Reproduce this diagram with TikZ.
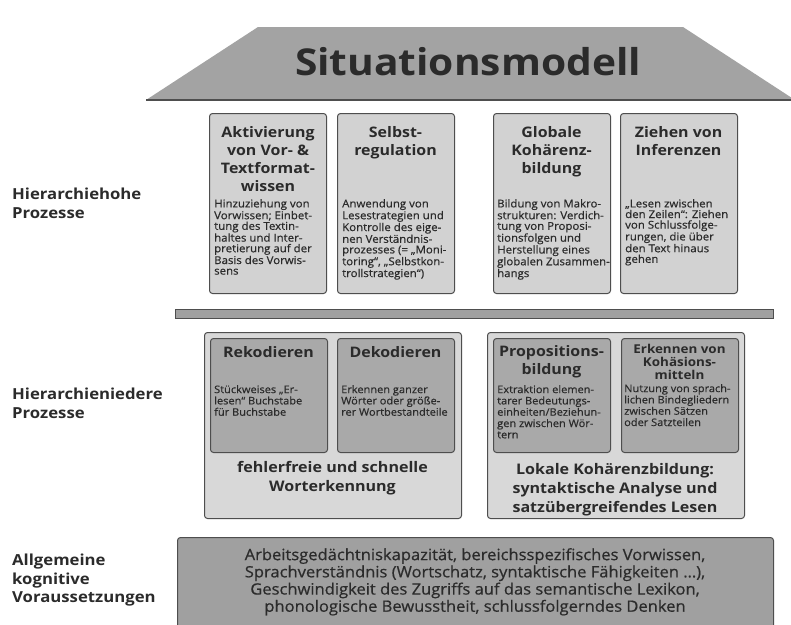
\documentclass[tikz,border=0pt]{standalone}
\usepackage{fontspec}
\setmainfont{Open Sans}[FakeStretch=1.1]
\newfontfamily\bodyfont{Open Sans}[FakeStretch=1.06, FakeBold=0.6]

\definecolor{edgegray}{HTML}{4E4E4E}
\definecolor{trapgray}{HTML}{A3A3A3}
\definecolor{lightbox}{HTML}{D2D2D2}
\definecolor{framefill}{HTML}{D8D8D8}
\definecolor{darkbox}{HTML}{A9A9A9}
\definecolor{basefill}{HTML}{A0A0A0}
\definecolor{inkgray}{HTML}{2B2B2B}

\tikzset{
  every node/.style={inner sep=0pt, text=inkgray},
  boxbase/.style={draw=edgegray, line width=1pt, rounded corners=3pt, anchor=north west},
  upbox/.style={boxbase, fill=lightbox, minimum width=117pt, minimum height=180pt},
  lowframe/.style={boxbase, fill=framefill, minimum width=257pt, minimum height=186pt},
  lowbox/.style={boxbase, fill=darkbox, minimum width=117pt, minimum height=114pt},
  titletext/.style={anchor=north, align=center, font=\bfseries\fontsize{14.5}{18}\selectfont},
  smalltitle/.style={anchor=north, align=center, font=\bfseries\fontsize{12.2}{13}\selectfont},
  updesc/.style={anchor=north west, align=left, font=\bodyfont\fontsize{10.8}{10.6}\selectfont},
  lowdesc/.style={anchor=north west, align=left, font=\bodyfont\fontsize{10.4}{11.3}\selectfont},
  frametext/.style={anchor=north, align=center, font=\bfseries\fontsize{14.6}{19.2}\selectfont},
  sidelabel/.style={anchor=north west, align=left, font=\bfseries\fontsize{15.2}{18.6}\selectfont},
}

\begin{document}
\begin{tikzpicture}[x=1pt, y=-1pt]
\useasboundingbox (0,0) rectangle (791,624);
\fill[white] (0,0) rectangle (791,624);

% top: situation model
\fill[trapgray] (258,27) -- (683,27) -- (795,100) -- (146,100) -- cycle;
\draw[edgegray, line width=1.4pt] (146,100) -- (795,100);
\node[font=\bfseries\fontsize{37}{42}\selectfont] (sm) at (468,62) {Situationsmodell};

% side labels
\node[sidelabel] (lblhigh) at (12,188) {Hierarchiehohe\\Prozesse};
\node[sidelabel] (lbllow) at (12,388) {Hierarchieniedere\\Prozesse};
\node[sidelabel] (lblbase) at (12,554) {Allgemeine\\kognitive\\Voraussetzungen};

% high-level processes
\node[upbox] (h1) at (209,113) {};
\node[upbox] (h2) at (337,113) {};
\node[upbox] (h3) at (493,113) {};
\node[upbox] (h4) at (620,113) {};

\node[titletext] (h1t) at (268,126) {Aktivierung\\von Vor- \&\\Textformat-\\wissen};
\node[titletext] (h2t) at (395.5,126) {Selbst-\\regulation};
\node[titletext] (h3t) at (551.5,126) {Globale\\Kohärenz-\\bildung};
\node[titletext] (h4t) at (678.5,126) {Ziehen von\\Inferenzen};

\node[updesc] (h1d) at (214,199) {Hinzuziehung von\\Vorwissen; Einbet-\\tung des Textin-\\haltes und Inter-\\pretierung auf der\\Basis des Vorwis-\\sens};
\node[updesc] (h2d) at (342,199) {Anwendung von\\Lesestrategien und\\Kontrolle des eige-\\nen Verständnis-\\prozesses (= „Moni-\\toring“, „Selbstkon-\\trollstrategien“)};
\node[updesc] (h3d) at (497,199) {Bildung von Makro-\\strukturen: Verdich-\\tung von Proposi-\\tionsfolgen und\\Herstellung eines\\globalen Zusammen-\\hangs};
\node[updesc] (h4d) at (625,199) {„Lesen zwischen\\den Zeilen“: Ziehen\\von Schlussfolge-\\rungen, die über\\den Text hinaus\\gehen};

% separator bar
\node[draw=edgegray, fill=basefill, line width=0.8pt, anchor=north west, minimum width=598pt, minimum height=9pt] (bar) at (175,309) {};

% low-level processes
\node[lowframe] (fl) at (204,332) {};
\node[lowframe] (fr) at (487,332) {};
\node[lowbox] (l1) at (210,338) {};
\node[lowbox] (l2) at (337,338) {};
\node[lowbox] (l3) at (493,338) {};
\node[lowbox] (l4) at (621,338) {};

\node[titletext] (l1t) at (268.5,346) {Rekodieren};
\node[titletext] (l2t) at (395.5,346) {Dekodieren};
\node[titletext] (l3t) at (551.5,345) {Propositions-\\bildung};
\node[smalltitle] (l4t) at (679.5,344) {Erkennen von\\Kohäsions-\\mitteln};

\node[lowdesc] (l1d) at (214,385) {Stückweises „Er-\\lesen“ Buchstabe\\für Buchstabe};
\node[lowdesc] (l2d) at (341,385) {Erkennen ganzer\\Wörter oder größe-\\rer Wortbestandteile};
\node[lowdesc] (l3d) at (497,385) {Extraktion elemen-\\tarer Bedeutungs-\\einheiten/Beziehun-\\gen zwischen Wör-\\tern};
\node[lowdesc] (l4d) at (624,384) {Nutzung von sprach-\\lichen Bindegliedern\\zwischen Sätzen\\oder Satzteilen};

\node[frametext] (flt) at (332.5,461) {fehlerfreie und schnelle\\Worterkennung};
\node[frametext] (frt) at (615,463) {Lokale Kohärenzbildung:\\syntaktische Analyse und\\satzübergreifendes Lesen};

% general cognitive prerequisites
\node[boxbase, fill=basefill, minimum width=596pt, minimum height=100pt] (base) at (177,537) {};
\node[anchor=north, align=center, font=\bodyfont\fontsize{15.6}{17.2}\selectfont] (baset) at (475,548) {Arbeitsgedächtniskapazität, bereichsspezifisches Vorwissen,\\Sprachverständnis (Wortschatz, syntaktische Fähigkeiten \dots),\\Geschwindigkeit des Zugriffs auf das semantische Lexikon,\\phonologische Bewusstheit, schlussfolgerndes Denken};
\end{tikzpicture}
\end{document}
